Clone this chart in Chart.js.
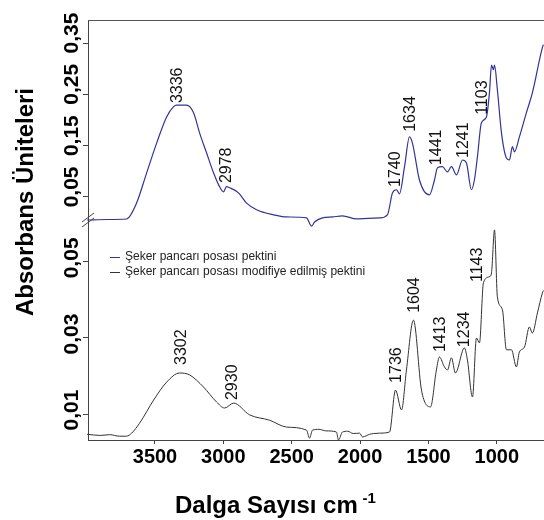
<!DOCTYPE html>
<html>
<head>
<meta charset="utf-8">
<script src="https://cdn.jsdelivr.net/npm/chart.js@4.4.1/dist/chart.umd.min.js"></script>
<style>
  html, body { margin: 0; padding: 0; background: #fff; }
  #wrap { position: relative; width: 544px; height: 520px; }
</style>
</head>
<body>
<div id="wrap"><canvas id="chart"></canvas></div>
<script>
// FTIR spectra - sugar beet pulp pectin (top) and modified pectin (bottom), broken y axis

const topWave = [3997, 3850, 3708, 3635, 3561, 3488, 3415, 3364, 3342, 3269, 3218, 3174, 3123, 3072,
  3028, 2999, 2977, 2955, 2889, 2830, 2757, 2633, 2538, 2392, 2355, 2333, 2275, 2200, 2129, 2026,
  1940, 1858, 1800, 1763, 1734, 1712, 1675, 1639, 1617, 1566, 1493, 1456, 1434, 1398, 1361, 1332,
  1295, 1251, 1222, 1186, 1164, 1142, 1113, 1076, 1054, 1039, 1025, 1017, 996, 966, 930, 908, 886,
  871, 835, 784, 740, 667, 659];
const topAbs = [0.005, 0.006, 0.007, 0.038, 0.097, 0.155, 0.206, 0.226, 0.229, 0.229, 0.214, 0.175,
  0.136, 0.097, 0.070, 0.060, 0.070, 0.068, 0.058, 0.038, 0.025, 0.015, 0.011, 0.009, -0.007, 0.001,
  0.009, 0.011, 0.013, 0.007, 0.008, 0.009, 0.015, 0.058, 0.064, 0.056, 0.109, 0.167, 0.155, 0.083,
  0.054, 0.083, 0.107, 0.109, 0.099, 0.109, 0.093, 0.122, 0.116, 0.064, 0.083, 0.128, 0.194, 0.206,
  0.253, 0.307, 0.298, 0.307, 0.259, 0.175, 0.126, 0.122, 0.148, 0.138, 0.167, 0.214, 0.253, 0.341,
  0.347];

const botWave = [3997, 3900, 3832, 3760, 3708, 3671, 3613, 3510, 3415, 3320, 3247, 3145, 3050, 2991,
  2925, 2808, 2662, 2538, 2392, 2370, 2348, 2300, 2250, 2173, 2158, 2129, 2090, 2050, 2004, 1982,
  1930, 1900, 1858, 1785, 1741, 1697, 1661, 1610, 1551, 1485, 1442, 1420, 1383, 1361, 1332, 1303,
  1237, 1215, 1178, 1149, 1127, 1098, 1054, 1039, 1017, 996, 959, 930, 893, 857, 835, 798, 762, 740,
  703, 667, 659];
const botAbs = [0.0047, 0.0044, 0.0046, 0.0042, 0.0042, 0.0050, 0.0076, 0.0137, 0.0184, 0.0208,
  0.0203, 0.0171, 0.0132, 0.0116, 0.0129, 0.0098, 0.0084, 0.0066, 0.0058, 0.0037, 0.0058, 0.0060,
  0.0056, 0.0053, 0.0032, 0.0053, 0.0055, 0.0049, 0.0050, 0.0040, 0.0047, 0.0049, 0.0050, 0.0053,
  0.0163, 0.0111, 0.0216, 0.0347, 0.0163, 0.0119, 0.0216, 0.0250, 0.0224, 0.0216, 0.0248, 0.0208,
  0.0274, 0.0242, 0.0145, 0.0300, 0.0287, 0.0445, 0.0461, 0.0471, 0.0584, 0.0408, 0.0374, 0.0269,
  0.0269, 0.0224, 0.0263, 0.0276, 0.0329, 0.0313, 0.0366, 0.0418, 0.0425];

// peak labels: wavenumber and the absorbance where the label starts
const topPeaks = [3336, 2978, 1740, 1634, 1441, 1241, 1103];
const topPeakAbs = [0.233, 0.077, 0.0695, 0.177, 0.112, 0.126, 0.210];
const botPeaks = [3302, 2930, 1736, 1604, 1413, 1234, 1143];
const botPeakAbs = [0.0229, 0.0137, 0.0182, 0.0366, 0.0263, 0.0276, 0.0447];

const xTicks = [3500, 3000, 2500, 2000, 1500, 1000];
const topTicks = [0.05, 0.15, 0.25, 0.35];
const botTicks = [0.01, 0.03, 0.05];
const seriesNames = ['Şeker pancarı posası pektini', 'Şeker pancarı posası modifiye edilmiş pektini'];
const seriesColors = ['#33339a', '#333333'];

const FONT = "'Liberation Sans', Arial, sans-serif";

function toPoints(xs, ys) {
    return xs.map((x, i) => ({ x: x, y: ys[i] }));
}

function rotatedText(ctx, text, x, y, align) {
    ctx.save();
    ctx.translate(x, y);
    ctx.rotate(-Math.PI / 2);
    ctx.textAlign = align;
    ctx.textBaseline = 'middle';
    ctx.fillText(text, 0, 0);
    ctx.restore();
}

const decorations = {
    id: 'decorations',
    afterDraw(chart) {
        const ctx = chart.ctx;
        const a = chart.chartArea;
        const xs = chart.scales.x;
        const yT = chart.scales.yTop;
        const yB = chart.scales.yBot;
        ctx.save();

        // top frame line
        ctx.strokeStyle = '#555';
        ctx.lineWidth = 1;
        ctx.beginPath();
        ctx.moveTo(a.left, a.top + 0.5);
        ctx.lineTo(a.right, a.top + 0.5);
        ctx.stroke();

        // axis break marks
        const yb = yT.bottom;
        ctx.strokeStyle = '#444';
        [-3, 2].forEach(function (d) {
            ctx.beginPath();
            ctx.moveTo(a.left - 6, yb + d + 5);
            ctx.lineTo(a.left + 6, yb + d - 4);
            ctx.stroke();
        });

        // y tick labels (rotated)
        ctx.fillStyle = '#000';
        ctx.font = 'bold 21px ' + FONT;
        topTicks.forEach(function (v) {
            rotatedText(ctx, v.toFixed(2).replace('.', ','), 72, yT.getPixelForValue(v) - 10, 'center');
        });
        botTicks.forEach(function (v) {
            rotatedText(ctx, v.toFixed(2).replace('.', ','), 72, yB.getPixelForValue(v) - 4, 'center');
        });

        // y axis title
        ctx.font = 'bold 24px ' + FONT;
        rotatedText(ctx, 'Absorbans Üniteleri', 26, 202, 'center');

        // x axis title with superscript
        ctx.textAlign = 'left';
        ctx.textBaseline = 'alphabetic';
        ctx.font = 'bold 24px ' + FONT;
        const main = 'Dalga Sayısı cm ';
        ctx.fillText(main, 175, 513);
        const w = ctx.measureText(main).width;
        ctx.font = 'bold 15px ' + FONT;
        ctx.fillText('-1', 175 + w - 2, 503);

        // peak labels
        ctx.font = '16px ' + FONT;
        ctx.fillStyle = '#111';
        topPeaks.forEach(function (p, i) {
            rotatedText(ctx, String(p), xs.getPixelForValue(p), yT.getPixelForValue(topPeakAbs[i]), 'left');
        });
        botPeaks.forEach(function (p, i) {
            rotatedText(ctx, String(p), xs.getPixelForValue(p), yB.getPixelForValue(botPeakAbs[i]), 'left');
        });

        // legend
        ctx.font = '12px ' + FONT;
        ctx.textAlign = 'left';
        ctx.textBaseline = 'middle';
        seriesNames.forEach(function (name, i) {
            const ly = 257 + i * 15;
            ctx.strokeStyle = seriesColors[i];
            ctx.beginPath();
            ctx.moveTo(110, ly + 0.5);
            ctx.lineTo(120, ly + 0.5);
            ctx.stroke();
            ctx.fillStyle = '#222';
            ctx.fillText(name, 125, ly);
        });

        ctx.restore();
    }
};

const yCommon = {
    type: 'linear',
    position: 'left',
    stack: 'spectra',
    afterFit: function (s) { s.width = 88; },
    ticks: { display: false },
    grid: { drawOnChartArea: false, tickLength: 5, color: '#444' },
    border: { color: '#444', width: 1 }
};

new Chart(document.getElementById('chart'), {
    type: 'line',
    data: {
        datasets: [
            {
                label: seriesNames[0],
                data: toPoints(topWave, topAbs),
                yAxisID: 'yTop',
                borderColor: seriesColors[0],
                borderWidth: 1.2,
                pointRadius: 0,
                cubicInterpolationMode: 'monotone',
                fill: false,
                clip: false
            },
            {
                label: seriesNames[1],
                data: toPoints(botWave, botAbs),
                yAxisID: 'yBot',
                borderColor: seriesColors[1],
                borderWidth: 1,
                pointRadius: 0,
                cubicInterpolationMode: 'monotone',
                fill: false,
                clip: false
            }
        ]
    },
    options: {
        responsive: true,
        maintainAspectRatio: false,
        animation: false,
        layout: { padding: { top: 20, left: 0, right: 0, bottom: 0 } },
        plugins: {
            legend: { display: false },
            tooltip: { enabled: false }
        },
        scales: {
            x: {
                type: 'linear',
                reverse: true,
                min: 655,
                max: 3990,
                afterBuildTicks: function (s) { s.ticks = xTicks.map(v => ({ value: v })); },
                afterFit: function (s) { s.height = 80; },
                grid: { drawOnChartArea: false, tickLength: 4, color: '#444' },
                border: { color: '#444', width: 1 },
                ticks: {
                    color: '#000',
                    padding: 1,
                    maxRotation: 0,
                    autoSkip: false,
                    font: { family: FONT, size: 20, weight: 'bold' },
                    callback: v => String(v)
                }
            },
            // left-side stacked axes are placed last-defined on top
            yBot: Object.assign({}, yCommon, {
                min: 0.0032,
                max: 0.061,
                stackWeight: 220,
                afterBuildTicks: function (s) { s.ticks = botTicks.map(v => ({ value: v })); }
            }),
            yTop: Object.assign({}, yCommon, {
                min: 0.005,
                max: 0.395,
                stackWeight: 200,
                afterBuildTicks: function (s) { s.ticks = topTicks.map(v => ({ value: v })); }
            })
        }
    },
    plugins: [decorations]
});
</script>
</body>
</html>
